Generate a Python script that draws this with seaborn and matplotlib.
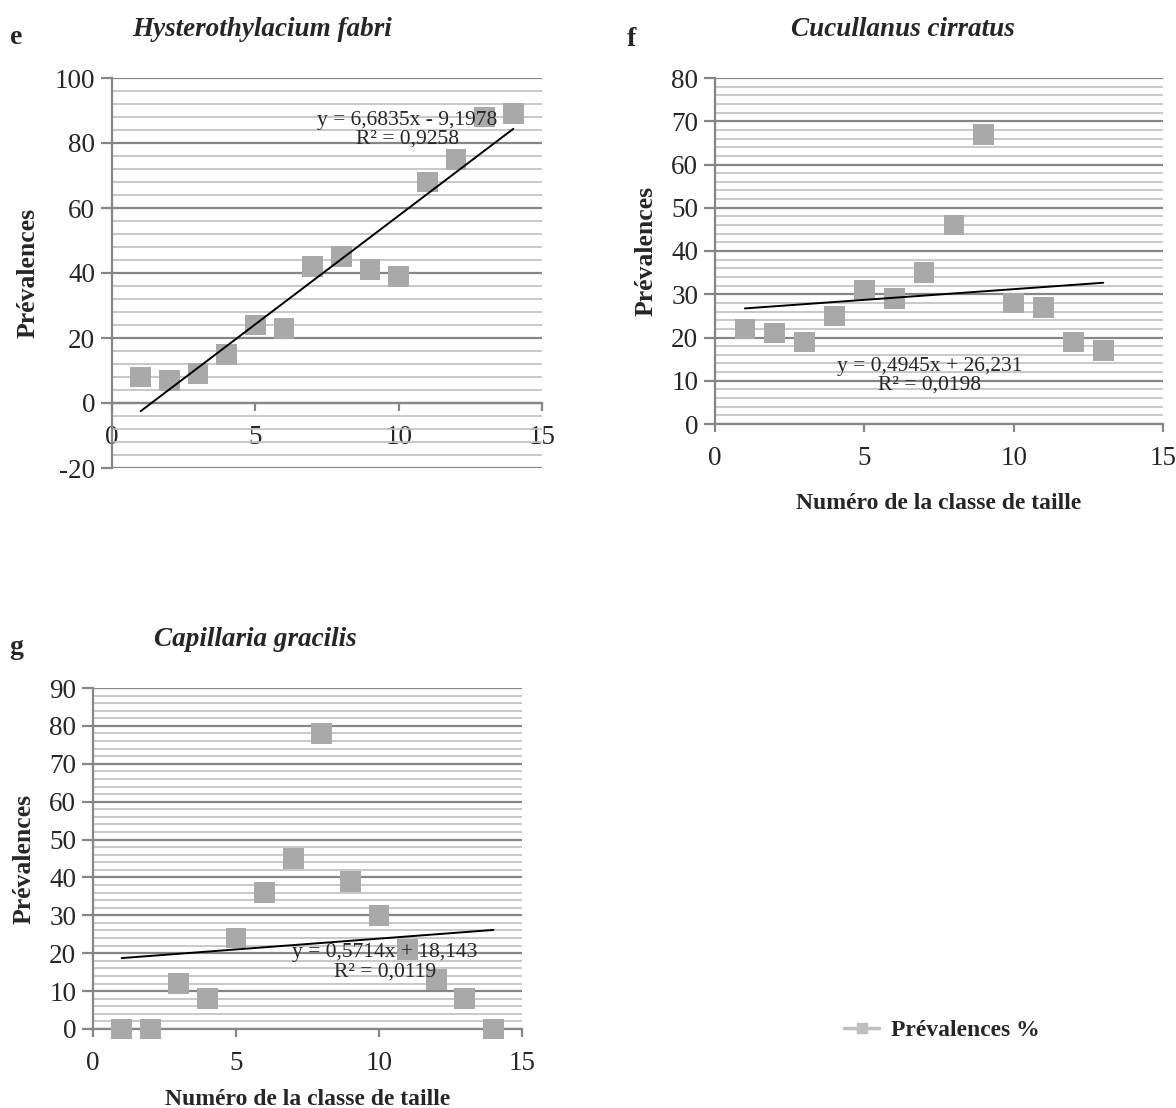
"""Prevalence vs size class for three parasite species, with linear trendlines."""
import matplotlib.pyplot as plt
import seaborn as sns
from matplotlib.lines import Line2D
from matplotlib.ticker import MultipleLocator

classes_e = list(range(1, 15))
prev_e = [8, 7, 9, 15, 24, 23, 42, 45, 41, 39, 68, 75, 88, 89]
classes_f = list(range(1, 14))
prev_f = [22, 21, 19, 25, 31, 29, 35, 46, 67, 28, 27, 19, 17]
classes_g = list(range(1, 15))
prev_g = [0, 0, 12, 8, 24, 36, 45, 78, 39, 30, 21, 13, 8, 0]

eq_e = "y = 6,6835x - 9,1978\nR² = 0,9258"
eq_f = "y = 0,4945x + 26,231\nR² = 0,0198"
eq_g = "y = 0,5714x + 18,143\nR² = 0,0119"

GREY = "#A9A9A9"
AXIS = "#868686"
MINOR = "#BFBFBF"

sns.set_style("white")
plt.rcParams["font.family"] = ["Liberation Serif", "DejaVu Serif"]
plt.rcParams["axes.unicode_minus"] = False

W, H = 1176, 1108
fig = plt.figure(figsize=(W / 100, H / 100), dpi=100)


def box(left, top, right, bottom):
    return [left / W, 1 - bottom / H, (right - left) / W, (bottom - top) / H]


def panel(ax, x, y, ymin, ymax, major, minor, eq, eq_xy, xlabel=None,
          xpad=16, ypad=11):
    sns.scatterplot(x=x, y=y, ax=ax, marker="s", s=220, color=GREY,
                    edgecolor="none", zorder=3, clip_on=False)
    sns.regplot(x=x, y=y, ax=ax, scatter=False, ci=None, truncate=True,
                line_kws=dict(color="black", lw=1.4, zorder=4))
    ax.set_xlim(0, 15)
    ax.set_ylim(ymin, ymax)
    ax.xaxis.set_major_locator(MultipleLocator(5))
    ax.yaxis.set_major_locator(MultipleLocator(major))
    ax.yaxis.set_minor_locator(MultipleLocator(minor))
    ax.grid(axis="y", which="minor", color=MINOR, lw=1.2)
    ax.grid(axis="y", which="major", color=AXIS, lw=1.6)
    ax.grid(axis="x", visible=False)
    ax.set_axisbelow(True)
    for s in ["top", "right"]:
        ax.spines[s].set_visible(False)
    for s in ["left", "bottom"]:
        ax.spines[s].set_color(AXIS)
        ax.spines[s].set_linewidth(1.6)
    ax.spines["bottom"].set_position(("data", 0))
    ax.tick_params(axis="y", which="major", length=8, width=1.6, color=AXIS,
                   labelsize=19.5, pad=4, left=True)
    ax.tick_params(axis="y", which="minor", length=0)
    ax.tick_params(axis="x", length=6, width=1.6, color=AXIS, labelsize=19.5,
                   pad=10, bottom=True, direction="out")
    ax.set_ylabel("Prévalences", fontsize=18.5, fontweight="bold",
                  labelpad=ypad)
    if xlabel:
        ax.set_xlabel(xlabel, fontsize=17, fontweight="bold", labelpad=xpad)
    else:
        ax.set_xlabel("")
    ax.text(eq_xy[0], eq_xy[1], eq, ha="center", va="center", fontsize=15.5,
            linespacing=1.0, zorder=5)


ax_e = fig.add_axes(box(112, 78, 542, 468))
panel(ax_e, classes_e, prev_e, -20, 100, 20, 4, eq_e, (10.3, 84))

ax_f = fig.add_axes(box(715, 78, 1163, 424))
panel(ax_f, classes_f, prev_f, 0, 80, 10, 2, eq_f, (7.2, 11.2),
      "Numéro de la classe de taille", ypad=10)

ax_g = fig.add_axes(box(93, 688, 522, 1029))
panel(ax_g, classes_g, prev_g, 0, 90, 10, 2, eq_g, (10.2, 17.6),
      "Numéro de la classe de taille", xpad=9, ypad=10)

title_kw = dict(ha="center", va="center", fontsize=19.5, fontstyle="italic",
                fontweight="bold")
fig.text(262 / W, 1 - 30 / H, "Hysterothylacium fabri", **title_kw)
fig.text(903 / W, 1 - 30 / H, "Cucullanus cirratus", **title_kw)
fig.text(255 / W, 1 - 640 / H, "Capillaria gracilis", **title_kw)

letter_kw = dict(ha="center", va="center", fontsize=20, fontweight="bold")
fig.text(16 / W, 1 - 38 / H, "e", **letter_kw)
fig.text(631 / W, 1 - 40 / H, "f", **letter_kw)
fig.text(16 / W, 1 - 648 / H, "g", **letter_kw)

handle = Line2D([0], [0], color=MINOR, lw=2.5, marker="s", markersize=7,
                markerfacecolor=MINOR, markeredgecolor=MINOR)
fig.legend(handles=[handle], labels=["Prévalences %"], loc="center",
           bbox_to_anchor=(942 / W, 1 - 1030 / H), frameon=False,
           prop=dict(weight="bold", size=17), handlelength=1.5,
           handletextpad=0.5)

fig.savefig("out.png", dpi=100)
